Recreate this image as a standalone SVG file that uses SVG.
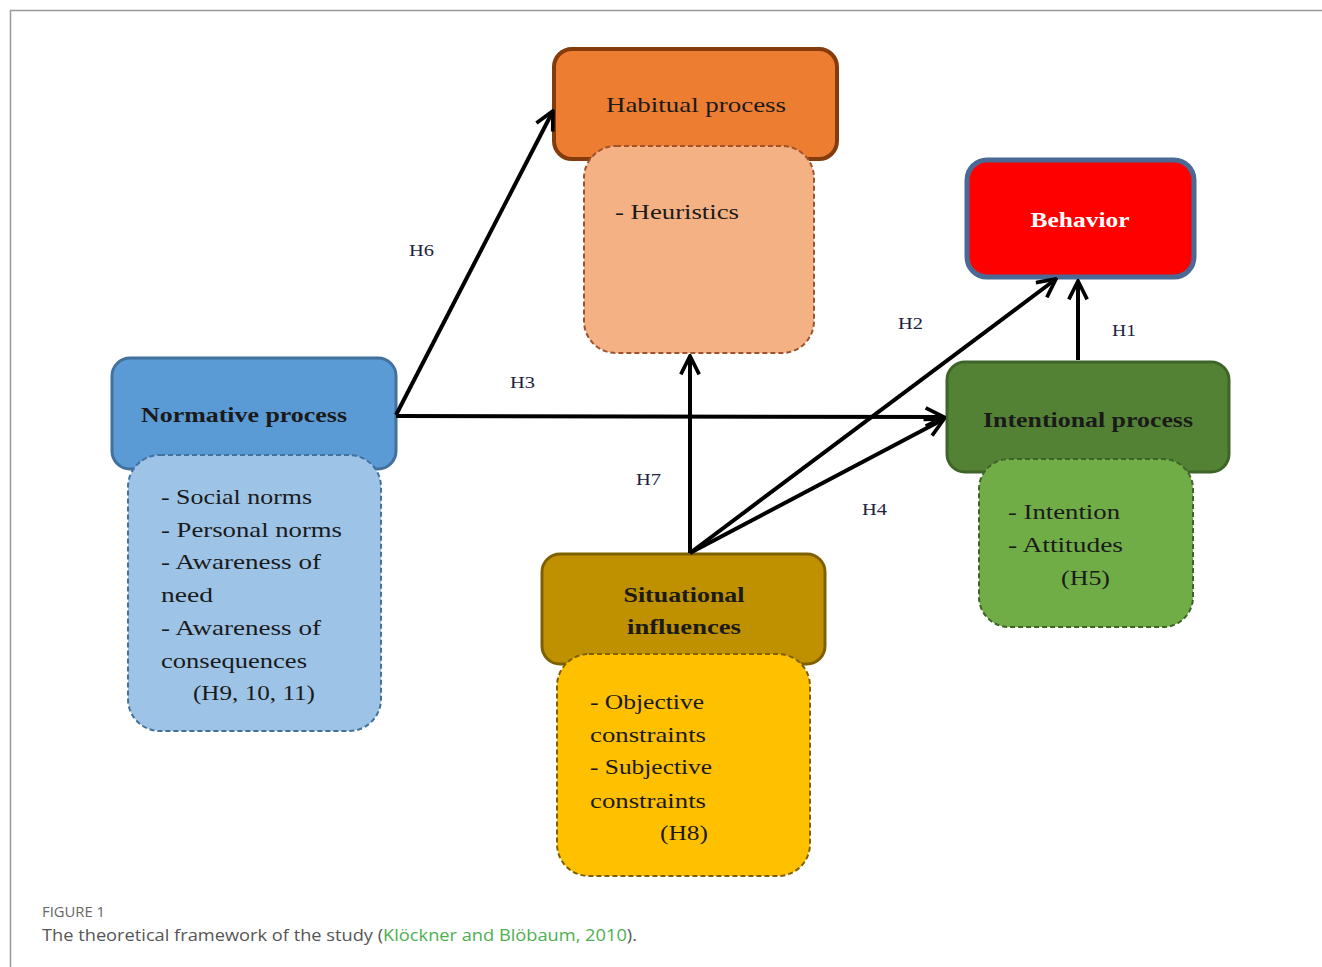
<svg xmlns="http://www.w3.org/2000/svg" width="1322" height="967" viewBox="0 0 1322 967">
<style>
.t{font-family:"Liberation Serif","DejaVu Serif",serif;font-size:22px;fill:#1a1a1a}
.b{font-weight:bold}
.h{font-family:"Liberation Serif","DejaVu Serif",serif;font-size:17px;fill:#1c2340}
.c{stroke:#000;stroke-width:4;fill:none}
.cap{font-family:"Open Sans","Liberation Sans",sans-serif}
</style>
<defs>
<marker id="ah" viewBox="0 0 12 12" refX="11" refY="6" markerWidth="5.5" markerHeight="5.5" orient="auto" markerUnits="strokeWidth">
<path d="M1,1 L11,6 L1,11" fill="none" stroke="#000" stroke-width="2"/>
</marker>
</defs>
<rect width="1322" height="967" fill="#fff"/>
<path d="M10.5,967 V10.5 H1322" fill="none" stroke="#999" stroke-width="1.5"/>

<g id="habitual">
<rect x="554" y="49" width="283" height="110" rx="18" fill="#ED7D31" stroke="#843C0C" stroke-width="4"/>
<rect x="584" y="146" width="230" height="207" rx="32" fill="#F4B183" stroke="#A0522D" stroke-width="2" stroke-dasharray="5,3"/>
<text class="t" x="606" y="112" textLength="180" lengthAdjust="spacingAndGlyphs">Habitual process</text>
<text class="t" x="615" y="219" textLength="124" lengthAdjust="spacingAndGlyphs">- Heuristics</text>
</g>

<g id="behavior">
<rect x="967" y="160" width="227" height="117" rx="20" fill="#FF0000" stroke="#4A6994" stroke-width="5"/>
<text class="t b" x="1080" y="227" style="fill:#fff;font-size:21px" text-anchor="middle" textLength="99" lengthAdjust="spacingAndGlyphs">Behavior</text>
</g>

<g id="normative">
<rect x="112" y="358" width="284" height="111" rx="18" fill="#5B9BD5" stroke="#41719C" stroke-width="3"/>
<rect x="128" y="455" width="253" height="276" rx="32" fill="#9DC3E6" stroke="#41719C" stroke-width="2" stroke-dasharray="5,3"/>
<text class="t b" x="141" y="422" style="font-size:21px" textLength="206" lengthAdjust="spacingAndGlyphs">Normative process</text>
<text class="t" x="161" y="504" textLength="151" lengthAdjust="spacingAndGlyphs">- Social norms</text>
<text class="t" x="161" y="537" textLength="181" lengthAdjust="spacingAndGlyphs">- Personal norms</text>
<text class="t" x="161" y="569" textLength="160" lengthAdjust="spacingAndGlyphs">- Awareness of</text>
<text class="t" x="161" y="602" textLength="52" lengthAdjust="spacingAndGlyphs">need</text>
<text class="t" x="161" y="635" textLength="160" lengthAdjust="spacingAndGlyphs">- Awareness of</text>
<text class="t" x="161" y="668" textLength="146" lengthAdjust="spacingAndGlyphs">consequences</text>
<text class="t" x="193" y="700" textLength="122" lengthAdjust="spacingAndGlyphs">(H9, 10, 11)</text>
</g>

<g id="intentional">
<rect x="947" y="362" width="282" height="110" rx="18" fill="#548235" stroke="#3E6428" stroke-width="3"/>
<rect x="979" y="459" width="214" height="168" rx="30" fill="#70AD47" stroke="#3E6428" stroke-width="2" stroke-dasharray="5,3"/>
<text class="t b" x="983" y="427" style="font-size:21px" textLength="210" lengthAdjust="spacingAndGlyphs">Intentional process</text>
<text class="t" x="1008" y="519" textLength="112" lengthAdjust="spacingAndGlyphs">- Intention</text>
<text class="t" x="1008" y="552" textLength="115" lengthAdjust="spacingAndGlyphs">- Attitudes</text>
<text class="t" x="1061" y="585" textLength="49" lengthAdjust="spacingAndGlyphs">(H5)</text>
</g>

<g id="situational">
<rect x="542" y="554" width="283" height="110" rx="18" fill="#BF9000" stroke="#7F6000" stroke-width="3"/>
<rect x="557" y="654" width="253" height="222" rx="32" fill="#FFC000" stroke="#7F6000" stroke-width="2" stroke-dasharray="5,3"/>
<text class="t b" x="684" y="602" style="font-size:21px" text-anchor="middle" textLength="121" lengthAdjust="spacingAndGlyphs">Situational</text>
<text class="t b" x="684" y="634" style="font-size:21px" text-anchor="middle" textLength="114" lengthAdjust="spacingAndGlyphs">influences</text>
<text class="t" x="590" y="709" textLength="114" lengthAdjust="spacingAndGlyphs">- Objective</text>
<text class="t" x="590" y="742" textLength="116" lengthAdjust="spacingAndGlyphs">constraints</text>
<text class="t" x="590" y="774" textLength="122" lengthAdjust="spacingAndGlyphs">- Subjective</text>
<text class="t" x="590" y="808" textLength="116" lengthAdjust="spacingAndGlyphs">constraints</text>
<text class="t" x="660" y="840" textLength="48" lengthAdjust="spacingAndGlyphs">(H8)</text>
</g>

<g id="connectors">
<line class="c" x1="396" y1="415" x2="553" y2="111" marker-end="url(#ah)"/>
<line class="c" x1="396" y1="416" x2="944" y2="417" marker-end="url(#ah)"/>
<line class="c" x1="690" y1="553" x2="690" y2="356" marker-end="url(#ah)"/>
<line class="c" x1="690" y1="553" x2="1056" y2="279" marker-end="url(#ah)"/>
<line class="c" x1="690" y1="553" x2="944" y2="419" marker-end="url(#ah)"/>
<line class="c" x1="1078" y1="360" x2="1078" y2="281" marker-end="url(#ah)"/>
<text class="h" x="409" y="256" textLength="25" lengthAdjust="spacingAndGlyphs">H6</text>
<text class="h" x="510" y="388" textLength="25" lengthAdjust="spacingAndGlyphs">H3</text>
<text class="h" x="636" y="485" textLength="25" lengthAdjust="spacingAndGlyphs">H7</text>
<text class="h" x="898" y="329" textLength="25" lengthAdjust="spacingAndGlyphs">H2</text>
<text class="h" x="862" y="515" textLength="25" lengthAdjust="spacingAndGlyphs">H4</text>
<text class="h" x="1112" y="336" textLength="24" lengthAdjust="spacingAndGlyphs">H1</text>
</g>

<g id="caption">
<text class="cap" x="42" y="917" font-size="14" fill="#666" textLength="63" lengthAdjust="spacingAndGlyphs">FIGURE 1</text>
<text class="cap" x="42" y="941" font-size="17" fill="#555" textLength="595" lengthAdjust="spacingAndGlyphs">The theoretical framework of the study (<tspan fill="#4CAF50">Klöckner and Blöbaum, 2010</tspan>).</text>
</g>
</svg>
